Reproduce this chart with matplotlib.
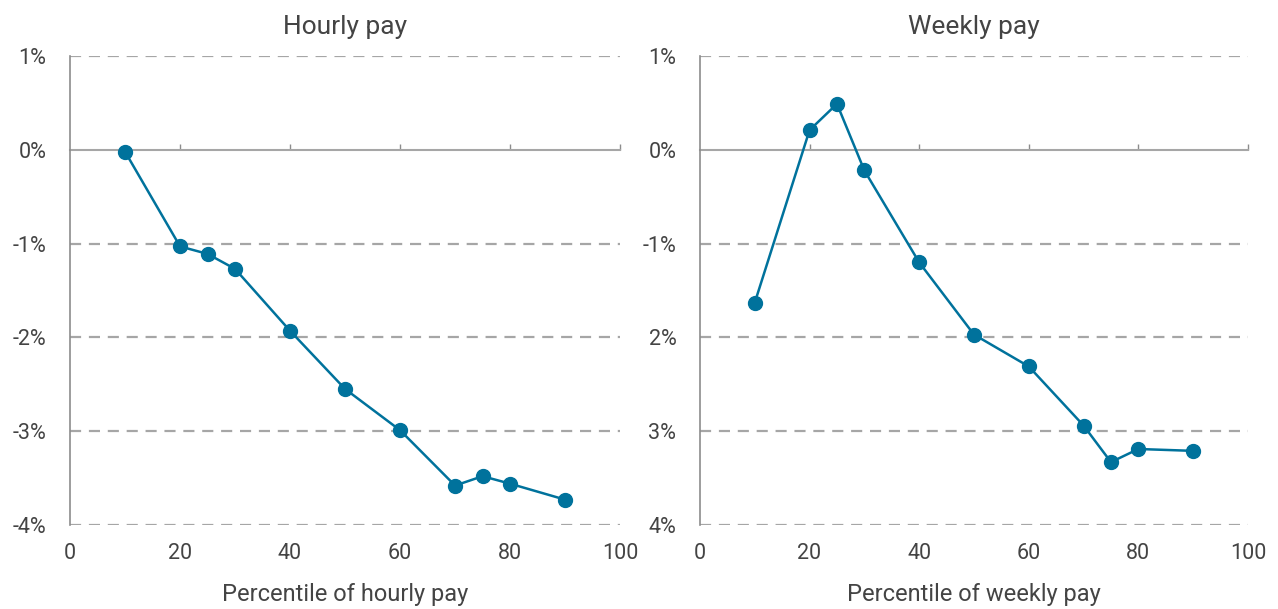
import matplotlib.pyplot as plt

plt.rcParams['font.family'] = ['Roboto', 'DejaVu Sans']

percentiles = [10, 20, 25, 30, 40, 50, 60, 70, 75, 80, 90]
hourly = [-0.02, -1.03, -1.11, -1.27, -1.93, -2.55, -2.99, -3.58, -3.48, -3.56, -3.73]
weekly = [-1.63, 0.21, 0.49, -0.22, -1.20, -1.97, -2.31, -2.94, -3.33, -3.19, -3.21]

y_ticks = [1, 0, -1, -2, -3, -4]
left_labels = ['1%', '0%', '-1%', '-2%', '-3%', '-4%']
right_labels = ['1%', '0%', '-1%', '2%', '3%', '4%']
x_ticks = [0, 20, 40, 60, 80, 100]

line_col = '#00729c'
grid_col = '#a6a6a6'
text_col = '#444444'

fig = plt.figure(figsize=(12.78, 6.09), dpi=100)
ax1 = fig.add_axes([0.0548, 0.138, 0.4304, 0.770])
ax2 = fig.add_axes([0.5477, 0.138, 0.4288, 0.770])

panels = [
    (ax1, hourly, 'Hourly pay', 'Percentile of hourly pay', left_labels),
    (ax2, weekly, 'Weekly pay', 'Percentile of weekly pay', right_labels),
]

for ax, vals, title, xlabel, ylabels in panels:
    ax.set_xlim(0, 100)
    ax.set_ylim(-4, 1)
    for y in y_ticks:
        if y != 0:
            ax.axhline(y, color=grid_col, lw=1.6, ls=(0, (5, 3.5)), zorder=1)
    ax.plot(percentiles, vals, color=line_col, lw=1.8, marker='o', ms=10,
            markerfacecolor=line_col, markeredgecolor=line_col, zorder=3)

    for s in ['top', 'right', 'bottom']:
        ax.spines[s].set_visible(False)
    ax.spines['left'].set_color('#8c8c8c')
    ax.spines['left'].set_linewidth(1.2)

    ax.set_yticks(y_ticks)
    ax.set_yticklabels(ylabels)
    ax.set_xticks(x_ticks)
    ax.tick_params(axis='y', length=0, pad=17, labelsize=15.5, labelcolor=text_col)
    ax.tick_params(axis='x', length=0, pad=13, labelsize=15.5, labelcolor=text_col)

    # zero line with small tick marks
    sec = ax.secondary_xaxis(0.8)
    sec.set_xticks([20, 40, 60, 80, 100])
    sec.tick_params(axis='x', direction='out', length=4, width=1.0,
                    color='#8c8c8c', labelbottom=False, labeltop=False)
    for s in sec.spines.values():
        s.set_color('#a6a6a6')
        s.set_linewidth(1.5)

    ax.set_title(title, fontsize=19, color=text_col, pad=16)
    ax.set_xlabel(xlabel, fontsize=17, color=text_col, labelpad=14)

fig.savefig('out.png', dpi=100)
